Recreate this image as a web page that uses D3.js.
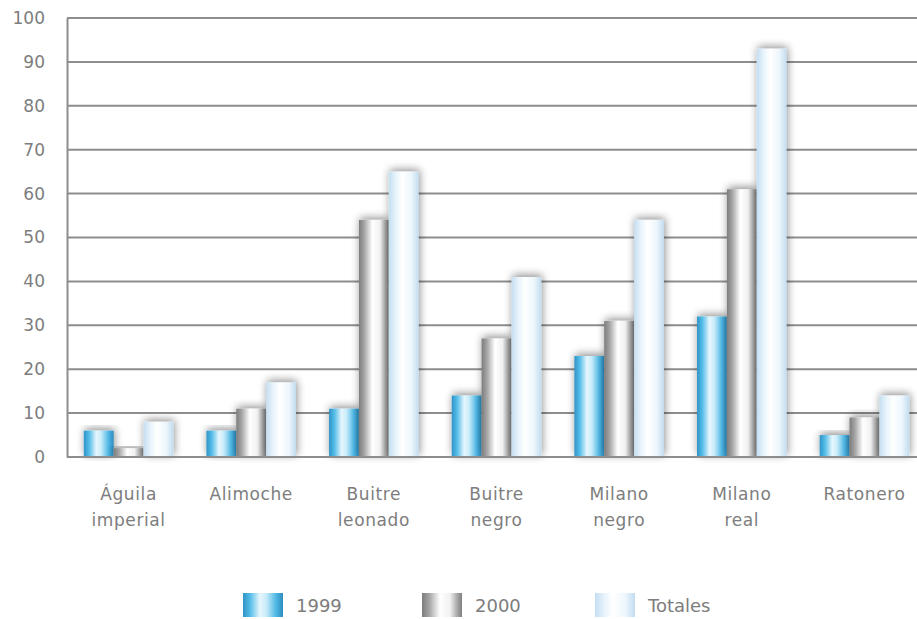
<!DOCTYPE html>
<html>
<head>
<meta charset="utf-8">
<script src="https://cdn.jsdelivr.net/npm/d3@7"></script>
<style>
  html, body { margin: 0; padding: 0; background: #fff; }
  svg { display: block; }
  text { font-family: "DejaVu Sans", sans-serif; fill: #7d7d7d; }
</style>
</head>
<body>
<svg id="chart" width="917" height="619"></svg>
<script>
// Species (two-line labels) and the three series
const categories = [
  ["Águila", "imperial"],
  ["Alimoche"],
  ["Buitre", "leonado"],
  ["Buitre", "negro"],
  ["Milano", "negro"],
  ["Milano", "real"],
  ["Ratonero"]
];
const seriesNames = ["1999", "2000", "Totales"];
const values1999 = [6, 6, 11, 14, 23, 32, 5];
const values2000 = [2, 11, 54, 27, 31, 61, 9];
const valuesTotales = [8, 17, 65, 41, 54, 93, 14];
const yTicks = [0, 10, 20, 30, 40, 50, 60, 70, 80, 90, 100];

const W = 917, H = 619;
const svg = d3.select("#chart");
const defs = svg.append("defs");

// Cylinder-like horizontal gradients for each series
const gradients = {
  "1999": [[0, "#2f93c6"], [0.18, "#55bde8"], [0.42, "#e6f6fd"], [0.58, "#c9ecfa"], [0.82, "#52b9e6"], [1, "#2c8cbf"]],
  "2000": [[0, "#7c7c7c"], [0.18, "#a5a5a5"], [0.45, "#ffffff"], [0.7, "#f1f1f1"], [0.88, "#a9a9a9"], [1, "#7e7e7e"]],
  "Totales": [[0, "#c4def1"], [0.25, "#eaf5fc"], [0.45, "#ffffff"], [0.75, "#eef7fd"], [1, "#c2dcef"]]
};
seriesNames.forEach((s, i) => {
  const g = defs.append("linearGradient").attr("id", "grad" + i)
    .attr("x1", "0%").attr("x2", "100%").attr("y1", "0%").attr("y2", "0%");
  gradients[s].forEach(([o, c]) => g.append("stop").attr("offset", o).attr("stop-color", c));
});

// Soft shadow halo around bars
const f = defs.append("filter").attr("id", "halo")
  .attr("x", "-40%").attr("y", "-20%").attr("width", "180%").attr("height", "140%");
f.append("feGaussianBlur").attr("in", "SourceAlpha").attr("stdDeviation", 4).attr("result", "b");
f.append("feOffset").attr("in", "b").attr("dx", 1).attr("dy", -2).attr("result", "o");
f.append("feComponentTransfer").attr("in", "o").attr("result", "s")
  .append("feFuncA").attr("type", "linear").attr("slope", 0.45);
const fm = f.append("feMerge");
fm.append("feMergeNode").attr("in", "s");
fm.append("feMergeNode").attr("in", "SourceGraphic");

const x0 = 67, yTop = 18, yBottom = 457;
const y = d3.scaleLinear().domain([0, 100]).range([yBottom, yTop]);
const x = d3.scaleBand().domain(d3.range(categories.length))
  .range([x0, 926]).paddingInner(0.27).paddingOuter(0.137);
const xs = d3.scaleBand().domain(seriesNames).range([0, x.bandwidth()]);

// Gridlines
svg.append("g").selectAll("line").data(yTicks).join("line")
  .attr("x1", x0).attr("x2", W)
  .attr("y1", d => y(d)).attr("y2", d => y(d))
  .attr("stroke", "#8d8d8d").attr("stroke-width", 2);

// Y axis
const yAxis = svg.append("g").attr("transform", `translate(${x0},0)`)
  .call(d3.axisLeft(y).tickValues(yTicks).tickSize(0).tickPadding(22));
yAxis.select(".domain").attr("stroke", "#8d8d8d").attr("stroke-width", 2);
yAxis.selectAll("text").style("font-size", "17px").attr("fill", "#7d7d7d")
  .style("font-family", "'DejaVu Sans', sans-serif");

// Bars
const series = [values1999, values2000, valuesTotales];
const groups = svg.append("g").selectAll("g").data(categories).join("g")
  .attr("transform", (d, i) => `translate(${x(i)},0)`);
groups.each(function (d, i) {
  const g = d3.select(this);
  seriesNames.forEach((s, k) => {
    const v = series[k][i];
    g.append("rect")
      .attr("x", xs(s)).attr("width", xs.bandwidth())
      .attr("y", y(v)).attr("height", y(0) - y(v))
      .attr("fill", `url(#grad${k})`)
      .attr("filter", "url(#halo)");
  });
});

// Baseline over bars
svg.append("line").attr("x1", x0).attr("x2", W).attr("y1", y(0)).attr("y2", y(0))
  .attr("stroke", "#8d8d8d").attr("stroke-width", 2);

// Category labels
const lbl = svg.append("g").selectAll("text").data(categories).join("text")
  .attr("text-anchor", "middle")
  .style("font-size", "17px").style("letter-spacing", "0.6px")
  .attr("transform", (d, i) => `translate(${x(i) + x.bandwidth() / 2},500)`);
lbl.selectAll("tspan").data(d => d).join("tspan")
  .attr("x", 0).attr("dy", (d, j) => j === 0 ? 0 : 26).text(d => d);

// Legend
const legendX = [243, 422, 595];
const leg = svg.append("g").selectAll("g").data(seriesNames).join("g")
  .attr("transform", (d, i) => `translate(${legendX[i]},593)`);
leg.append("rect").attr("width", 40).attr("height", 24)
  .attr("fill", (d, i) => `url(#grad${i})`);
leg.append("text").attr("x", 53).attr("y", 19).style("font-size", "18px").text(d => d);
</script>
</body>
</html>
